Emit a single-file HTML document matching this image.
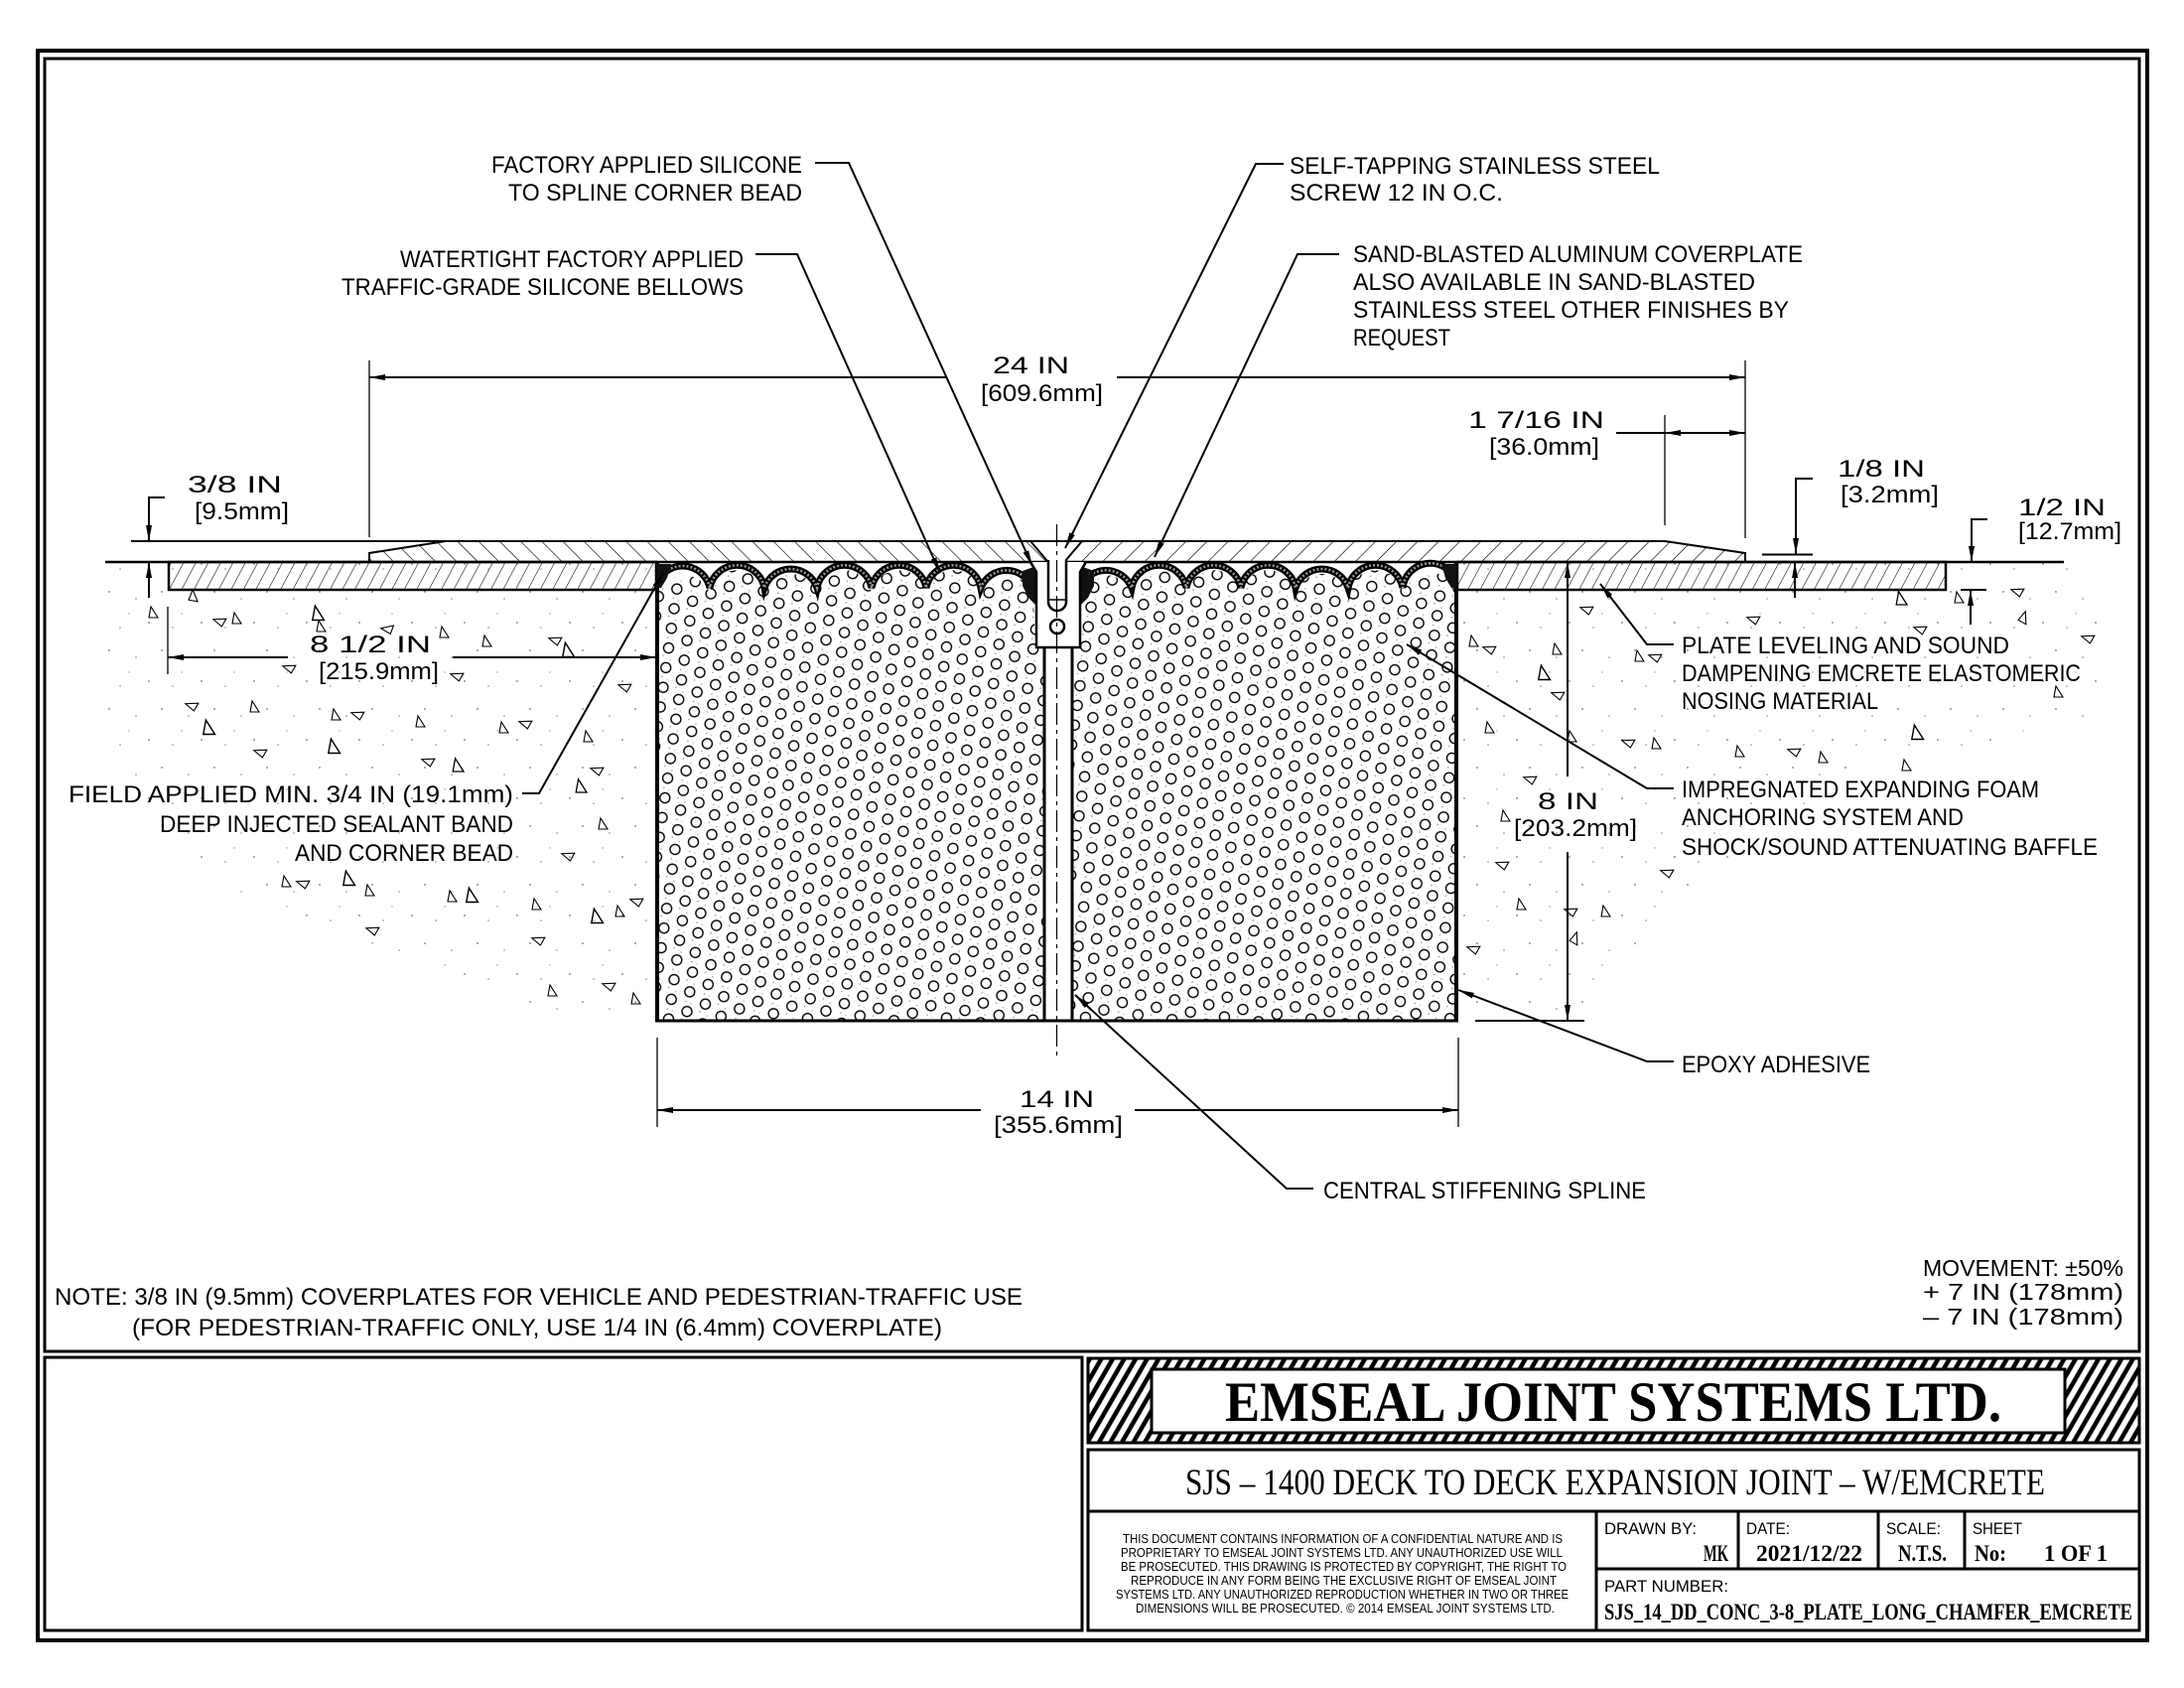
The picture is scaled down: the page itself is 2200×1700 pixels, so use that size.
<!DOCTYPE html>
<html><head><meta charset="utf-8"><title>SJS-1400 Deck to Deck Expansion Joint</title>
<style>
html,body{margin:0;padding:0;background:#fff;}
svg{display:block;}
.l{stroke:#000;stroke-width:2;fill:none;}
.th{stroke:#000;stroke-width:1.3;fill:none;}
.b3{stroke:#000;stroke-width:3;fill:none;}
.t{font-family:"Liberation Sans",sans-serif;font-size:24px;fill:#000;}
.s{font-family:"Liberation Serif",serif;fill:#000;}
</style></head>
<body>
<svg xmlns="http://www.w3.org/2000/svg" width="2200" height="1700" viewBox="0 0 2200 1700">
<defs>
 <marker id="a" viewBox="0 0 16 6" refX="16" refY="3" markerWidth="16" markerHeight="6" orient="auto-start-reverse" markerUnits="userSpaceOnUse"><path d="M0,0 L16,3 L0,6 Z" fill="#000"/></marker>
 <pattern id="hl" patternUnits="userSpaceOnUse" width="15" height="15" patternTransform="rotate(-45)"><line x1="0" y1="0" x2="0" y2="15" stroke="#000" stroke-width="1.3"/></pattern>
 <pattern id="hr" patternUnits="userSpaceOnUse" width="15" height="15" patternTransform="rotate(45)"><line x1="0" y1="0" x2="0" y2="15" stroke="#000" stroke-width="1.3"/></pattern>
 <pattern id="hn" patternUnits="userSpaceOnUse" width="11" height="11" patternTransform="rotate(28)"><line x1="0" y1="0" x2="0" y2="11" stroke="#000" stroke-width="1.1"/></pattern>
 <pattern id="band" patternUnits="userSpaceOnUse" width="10" height="10" patternTransform="rotate(30)"><line x1="5" y1="0" x2="5" y2="10" stroke="#000" stroke-width="4.5"/></pattern>
 <pattern id="foam" patternUnits="userSpaceOnUse" width="20" height="34.64" patternTransform="rotate(-22)">
  <circle cx="10" cy="8.66" r="5" fill="none" stroke="#000" stroke-width="1.4"/>
  <circle cx="0" cy="25.98" r="5" fill="none" stroke="#000" stroke-width="1.4"/>
  <circle cx="20" cy="25.98" r="5" fill="none" stroke="#000" stroke-width="1.4"/>
  <circle cx="3" cy="16" r="0.8" fill="#999"/><circle cx="17" cy="3" r="0.8" fill="#aaa"/><circle cx="12" cy="31" r="0.8" fill="#999"/><circle cx="7" cy="20" r="0.7" fill="#bbb"/>
 </pattern>
 <pattern id="dots" patternUnits="userSpaceOnUse" width="53" height="59">
  <circle cx="4" cy="6" r="0.9" fill="#777"/><circle cx="31" cy="13" r="0.8" fill="#888"/><circle cx="44" cy="37" r="0.9" fill="#777"/><circle cx="15" cy="42" r="0.8" fill="#888"/><circle cx="24" cy="28" r="0.7" fill="#999"/>
 </pattern>
 <clipPath id="foamL"><path d="M663,597 A28,28 0 0 1 715,597 A28,28 0 0 1 770,597 A28,28 0 0 1 823,597 A28,28 0 0 1 878,597 A28,28 0 0 1 933,597 A28,28 0 0 1 988,597 A28,28 0 0 1 1040,597 L1044,652 L1051,652 L1051,1027 L663,1027 Z"/></clipPath>
 <clipPath id="foamR"><path d="M1088,597 A28,28 0 0 1 1140,597 A28,28 0 0 1 1195,597 A28,28 0 0 1 1250,597 A28,28 0 0 1 1305,597 A28,28 0 0 1 1358,597 A28,28 0 0 1 1413,597 A28,28 0 0 1 1467,597 L1467,1027 L1081,1027 L1081,652 L1088,652 Z"/></clipPath>
 <path id="t" d="M-4,5 L5,5 L-2,-6 Z" fill="none" stroke="#000" stroke-width="1.1"/>
</defs>

<rect x="0" y="0" width="2200" height="1700" fill="#fff"/>

<!-- frames -->
<rect x="38" y="51" width="2125" height="1601" fill="none" stroke="#000" stroke-width="4"/>
<rect x="45" y="59" width="2110" height="1302" fill="none" stroke="#000" stroke-width="3"/>
<rect x="45" y="1367" width="1045" height="275" fill="none" stroke="#000" stroke-width="3"/>

<!-- title block -->
<rect x="1096" y="1368" width="1059" height="85" fill="url(#band)" stroke="#000" stroke-width="3"/>
<rect x="1160" y="1379" width="920" height="64" fill="#fff" stroke="#000" stroke-width="3"/>
<text class="s" x="1234" y="1431" font-size="57" font-weight="bold" textLength="782" lengthAdjust="spacingAndGlyphs">EMSEAL JOINT SYSTEMS LTD.</text>
<rect x="1096" y="1460" width="1059" height="62" fill="none" stroke="#000" stroke-width="3"/>
<text class="s" x="1194" y="1505" font-size="37" textLength="866" lengthAdjust="spacingAndGlyphs">SJS – 1400 DECK TO DECK EXPANSION JOINT – W/EMCRETE</text>
<rect x="1096" y="1522" width="1059" height="120" fill="none" stroke="#000" stroke-width="3"/>
<line x1="1608" y1="1522" x2="1608" y2="1642" class="b3"/>
<line x1="1751" y1="1522" x2="1751" y2="1580" class="b3"/>
<line x1="1892" y1="1522" x2="1892" y2="1580" class="b3"/>
<line x1="1979" y1="1522" x2="1979" y2="1580" class="b3"/>
<line x1="1608" y1="1580" x2="2155" y2="1580" class="b3"/>
<g font-family="Liberation Sans, sans-serif" font-size="13" fill="#000">
 <text x="1131" y="1554" textLength="443" lengthAdjust="spacingAndGlyphs">THIS DOCUMENT CONTAINS INFORMATION OF A CONFIDENTIAL NATURE AND IS</text>
 <text x="1129" y="1568" textLength="445" lengthAdjust="spacingAndGlyphs">PROPRIETARY TO EMSEAL JOINT SYSTEMS LTD. ANY UNAUTHORIZED USE WILL</text>
 <text x="1129" y="1582" textLength="449" lengthAdjust="spacingAndGlyphs">BE PROSECUTED. THIS DRAWING IS PROTECTED BY COPYRIGHT, THE RIGHT TO</text>
 <text x="1139" y="1596" textLength="429" lengthAdjust="spacingAndGlyphs">REPRODUCE IN ANY FORM BEING THE EXCLUSIVE RIGHT OF EMSEAL JOINT</text>
 <text x="1124" y="1610" textLength="456" lengthAdjust="spacingAndGlyphs">SYSTEMS LTD. ANY UNAUTHORIZED REPRODUCTION WHETHER IN TWO OR THREE</text>
 <text x="1144" y="1624" textLength="422" lengthAdjust="spacingAndGlyphs">DIMENSIONS WILL BE PROSECUTED. © 2014 EMSEAL JOINT SYSTEMS LTD.</text>
</g>
<g font-family="Liberation Sans, sans-serif" font-size="17" fill="#000">
 <text x="1616" y="1545" textLength="93" lengthAdjust="spacingAndGlyphs">DRAWN BY:</text>
 <text x="1759" y="1545" textLength="44" lengthAdjust="spacingAndGlyphs">DATE:</text>
 <text x="1900" y="1545" textLength="55" lengthAdjust="spacingAndGlyphs">SCALE:</text>
 <text x="1987" y="1545" textLength="50" lengthAdjust="spacingAndGlyphs">SHEET</text>
 <text x="1616" y="1603" textLength="125" lengthAdjust="spacingAndGlyphs">PART NUMBER:</text>
</g>
<g font-family="Liberation Serif, serif" font-size="23" font-weight="bold" fill="#000">
 <text x="1716" y="1572" textLength="25" lengthAdjust="spacingAndGlyphs">MK</text>
 <text x="1769" y="1572" textLength="107" lengthAdjust="spacingAndGlyphs">2021/12/22</text>
 <text x="1912" y="1572" textLength="49" lengthAdjust="spacingAndGlyphs">N.T.S.</text>
 <text x="1989" y="1572" textLength="32" lengthAdjust="spacingAndGlyphs">No:</text>
 <text x="2059" y="1572" textLength="64" lengthAdjust="spacingAndGlyphs">1 OF 1</text>
 <text x="1616" y="1631" textLength="532" lengthAdjust="spacingAndGlyphs">SJS_14_DD_CONC_3-8_PLATE_LONG_CHAMFER_EMCRETE</text>
</g>

<!-- notes -->
<text class="t" x="55" y="1314" textLength="975" lengthAdjust="spacingAndGlyphs">NOTE: 3/8 IN (9.5mm) COVERPLATES FOR VEHICLE AND PEDESTRIAN-TRAFFIC USE</text>
<text class="t" x="133" y="1345" textLength="816" lengthAdjust="spacingAndGlyphs">(FOR PEDESTRIAN-TRAFFIC ONLY, USE 1/4 IN (6.4mm) COVERPLATE)</text>
<g font-family="Liberation Sans, sans-serif" font-size="23" fill="#000">
 <text x="1937" y="1285" textLength="202" lengthAdjust="spacingAndGlyphs">MOVEMENT: ±50%</text>
 <text x="1937" y="1309" textLength="202" lengthAdjust="spacingAndGlyphs">+ 7 IN (178mm)</text>
 <text x="1937" y="1334" textLength="202" lengthAdjust="spacingAndGlyphs">– 7 IN (178mm)</text>
</g>

<!-- concrete stipple -->
<polygon points="106,566 170,566 170,594 661,594 661,1028 560,1028 400,960 220,890 110,760" fill="url(#dots)"/>
<polygon points="1468,594 1960,594 1960,566 2110,566 2120,720 1900,770 1760,850 1640,960 1600,1028 1468,1028" fill="url(#dots)"/>

<!-- aggregate triangles -->
<g>
<use href="#t" transform="translate(195,600) rotate(10)"/><use href="#t" transform="translate(154,617)"/><use href="#t" transform="translate(221,625) rotate(-60)"/><use href="#t" transform="translate(238,623)"/>
<use href="#t" transform="translate(320,618) scale(1.3)"/><use href="#t" transform="translate(323,631)"/><use href="#t" transform="translate(390,633) rotate(-70)"/><use href="#t" transform="translate(447,637)"/>
<use href="#t" transform="translate(490,646)"/><use href="#t" transform="translate(559,644) rotate(-60)"/><use href="#t" transform="translate(572,655) scale(1.3)"/><use href="#t" transform="translate(291,672) rotate(-60)"/>
<use href="#t" transform="translate(460,680) rotate(-60)"/><use href="#t" transform="translate(629,691) rotate(-60)"/><use href="#t" transform="translate(193,710) rotate(-60)"/><use href="#t" transform="translate(256,712)"/>
<use href="#t" transform="translate(338,720)"/><use href="#t" transform="translate(360,719) rotate(-60)"/><use href="#t" transform="translate(423,727)"/><use href="#t" transform="translate(507,733)"/>
<use href="#t" transform="translate(529,728) rotate(-60)"/><use href="#t" transform="translate(592,742)"/><use href="#t" transform="translate(210,733) scale(1.3)"/><use href="#t" transform="translate(262,757) rotate(-60)"/>
<use href="#t" transform="translate(336,752) scale(1.3)"/><use href="#t" transform="translate(431,766) rotate(-60)"/><use href="#t" transform="translate(461,771) scale(1.2)"/><use href="#t" transform="translate(601,775) rotate(-60)"/>
<use href="#t" transform="translate(585,792) scale(1.2)"/><use href="#t" transform="translate(607,830)"/><use href="#t" transform="translate(572,861) rotate(-60)"/><use href="#t" transform="translate(288,888)"/>
<use href="#t" transform="translate(305,889) rotate(-60)"/><use href="#t" transform="translate(351,885) scale(1.3)"/><use href="#t" transform="translate(372,897)"/><use href="#t" transform="translate(455,903)"/>
<use href="#t" transform="translate(475,902) scale(1.3)"/><use href="#t" transform="translate(540,911)"/><use href="#t" transform="translate(601,923) scale(1.3)"/><use href="#t" transform="translate(624,918)"/>
<use href="#t" transform="translate(641,907) rotate(-60)"/><use href="#t" transform="translate(375,936) rotate(-60)"/><use href="#t" transform="translate(542,946) rotate(-60)"/><use href="#t" transform="translate(556,998)"/>
<use href="#t" transform="translate(613,992) rotate(-60)"/><use href="#t" transform="translate(640,1006)"/>
<use href="#t" transform="translate(1915,603) scale(1.2)"/><use href="#t" transform="translate(1973,602)"/><use href="#t" transform="translate(2032,595) rotate(-60)"/><use href="#t" transform="translate(2039,622) rotate(30)"/>
<use href="#t" transform="translate(1766,623) rotate(-60)"/><use href="#t" transform="translate(1598,613) rotate(-60)"/><use href="#t" transform="translate(1934,633) rotate(-60)"/><use href="#t" transform="translate(2103,642) rotate(-60)"/>
<use href="#t" transform="translate(1484,646)"/><use href="#t" transform="translate(1500,653) rotate(-60)"/><use href="#t" transform="translate(1568,654)"/><use href="#t" transform="translate(1651,661)"/>
<use href="#t" transform="translate(1667,661) rotate(-60)"/><use href="#t" transform="translate(1555,678) scale(1.3)"/><use href="#t" transform="translate(1569,699) rotate(-60)"/><use href="#t" transform="translate(2073,697)"/>
<use href="#t" transform="translate(1500,733)"/><use href="#t" transform="translate(1583,742)"/><use href="#t" transform="translate(1640,747) rotate(-60)"/><use href="#t" transform="translate(1668,749)"/>
<use href="#t" transform="translate(1752,757)"/><use href="#t" transform="translate(1807,756) rotate(-60)"/><use href="#t" transform="translate(1836,763)"/><use href="#t" transform="translate(1931,738) scale(1.3)"/>
<use href="#t" transform="translate(1920,771)"/><use href="#t" transform="translate(1541,784) rotate(-60)"/><use href="#t" transform="translate(1516,822)"/><use href="#t" transform="translate(1679,878) rotate(-60)"/>
<use href="#t" transform="translate(1513,870) rotate(-60)"/><use href="#t" transform="translate(1532,911)"/><use href="#t" transform="translate(1582,917) rotate(-60)"/><use href="#t" transform="translate(1617,918)"/>
<use href="#t" transform="translate(1587,945) rotate(30)"/><use href="#t" transform="translate(1484,955) rotate(-60)"/>
</g>

<!-- nosing boxes -->
<rect x="170" y="566" width="491" height="28" fill="url(#hn)"/>
<rect x="170" y="566" width="491" height="28" fill="url(#dots)" stroke="#000" stroke-width="2.5"/>
<rect x="1468" y="566" width="492" height="28" fill="url(#hn)"/>
<rect x="1468" y="566" width="492" height="28" fill="url(#dots)" stroke="#000" stroke-width="2.5"/>

<!-- coverplate -->
<polygon points="372,566 372,557 449,545 1064,545 1064,566" fill="url(#hl)"/>
<polygon points="1064,545 1677,545 1758,557 1758,566 1064,566" fill="url(#hr)"/>
<polygon points="1038,545 1090,545 1073,566 1055,566" fill="#fff"/>
<line x1="132" y1="545" x2="1677" y2="545" class="l"/>
<polyline points="449,545 372,557 372,566" class="l"/>
<polyline points="1677,545 1758,557 1758,566" class="l"/>
<line x1="106" y1="566" x2="2079" y2="566" stroke="#000" stroke-width="2.5"/>
<line x1="1038" y1="545" x2="1055" y2="565" class="l"/>
<line x1="1090" y1="545" x2="1073" y2="565" class="l"/>

<!-- foam -->
<rect x="661" y="566" width="390" height="462" fill="url(#foam)" clip-path="url(#foamL)"/>
<rect x="1081" y="566" width="387" height="462" fill="url(#foam)" clip-path="url(#foamR)"/>
<line x1="662" y1="566" x2="662" y2="1029" stroke="#000" stroke-width="4"/>
<line x1="1467" y1="566" x2="1467" y2="1029" stroke="#000" stroke-width="4"/>
<line x1="660" y1="1028" x2="1469" y2="1028" stroke="#000" stroke-width="3"/>
<line x1="1052" y1="652" x2="1052" y2="1028" stroke="#000" stroke-width="3"/>
<line x1="1080" y1="652" x2="1080" y2="1028" stroke="#000" stroke-width="3"/>

<!-- bellows -->
<path d="M664,588 A28,28 0 0 1 715,597 A28,28 0 0 1 770,597 A28,28 0 0 1 823,597 A28,28 0 0 1 878,597 A28,28 0 0 1 933,597 A28,28 0 0 1 988,597 A28,28 0 0 1 1040,597" fill="none" stroke="#000" stroke-width="7" transform="translate(0,-5)"/>
<path d="M664,588 A28,28 0 0 1 715,597 A28,28 0 0 1 770,597 A28,28 0 0 1 823,597 A28,28 0 0 1 878,597 A28,28 0 0 1 933,597 A28,28 0 0 1 988,597 A28,28 0 0 1 1040,597" fill="none" stroke="#999" stroke-width="2.5" stroke-dasharray="2 2" transform="translate(0,-5)"/>
<path d="M1088,597 A28,28 0 0 1 1140,597 A28,28 0 0 1 1195,597 A28,28 0 0 1 1250,597 A28,28 0 0 1 1305,597 A28,28 0 0 1 1358,597 A28,28 0 0 1 1413,597 A28,28 0 0 1 1466,588" fill="none" stroke="#000" stroke-width="7" transform="translate(0,-5)"/>
<path d="M1088,597 A28,28 0 0 1 1140,597 A28,28 0 0 1 1195,597 A28,28 0 0 1 1250,597 A28,28 0 0 1 1305,597 A28,28 0 0 1 1358,597 A28,28 0 0 1 1413,597 A28,28 0 0 1 1466,588" fill="none" stroke="#999" stroke-width="2.5" stroke-dasharray="2 2" transform="translate(0,-5)"/>
<!-- corner beads -->
<path d="M661,568 L676,568 L672,582 L666,592 L661,592 Z" fill="#111"/>
<path d="M1030,575 L1044,570 L1044,610 L1036,602 L1030,590 Z" fill="#111"/>
<path d="M1102,575 L1088,570 L1088,610 L1096,602 L1102,590 Z" fill="#111"/>
<path d="M1467,568 L1452,568 L1456,582 L1462,592 L1467,592 Z" fill="#111"/>

<!-- spline head & screw -->
<polygon points="1040,566 1044,576 1044,652 1088,652 1088,576 1092,566" fill="#fff"/>
<polyline points="1038,566 1044,576 1044,652 1088,652 1088,576 1094,566" stroke="#000" stroke-width="2.5" fill="none"/>
<path d="M1056,564 L1056,606 A9,9 0 0 0 1074,606 L1074,564" fill="#fff" stroke="#000" stroke-width="2.5"/>
<line x1="1056" y1="604" x2="1074" y2="604" stroke="#000" stroke-width="1.5"/>
<circle cx="1065" cy="631" r="7" fill="none" stroke="#000" stroke-width="2.5"/>
<line x1="1064.5" y1="528" x2="1064.5" y2="1068" stroke="#000" stroke-width="1.2" stroke-dasharray="22 5 4 5"/>

<!-- dimensions -->
<line x1="372" y1="363" x2="372" y2="541" class="th"/>
<line x1="1758" y1="363" x2="1758" y2="542" class="th"/>
<line x1="954" y1="380" x2="372" y2="380" class="l" marker-end="url(#a)"/>
<line x1="1125" y1="380" x2="1758" y2="380" class="l" marker-end="url(#a)"/>
<text class="t" x="1000" y="376" textLength="77" lengthAdjust="spacingAndGlyphs">24 IN</text>
<text class="t" x="988" y="404" textLength="123" lengthAdjust="spacingAndGlyphs">[609.6mm]</text>

<line x1="1677" y1="418" x2="1677" y2="529" class="th"/>
<line x1="1628" y1="436" x2="1677" y2="436" class="l"/>
<line x1="1717" y1="436" x2="1677" y2="436" class="l" marker-end="url(#a)"/>
<line x1="1717" y1="436" x2="1758" y2="436" class="l" marker-end="url(#a)"/>
<text class="t" x="1479" y="431" textLength="137" lengthAdjust="spacingAndGlyphs">1 7/16 IN</text>
<text class="t" x="1500" y="458" textLength="111" lengthAdjust="spacingAndGlyphs">[36.0mm]</text>

<polyline points="166,501 150,501 150,545" class="l" marker-end="url(#a)"/>
<line x1="150" y1="602" x2="150" y2="566" class="l" marker-end="url(#a)"/>
<text class="t" x="189" y="496" textLength="95" lengthAdjust="spacingAndGlyphs">3/8 IN</text>
<text class="t" x="196" y="523" textLength="95" lengthAdjust="spacingAndGlyphs">[9.5mm]</text>

<polyline points="1826,482 1809,482 1809,558" class="l" marker-end="url(#a)"/>
<line x1="1775" y1="558.5" x2="1826" y2="558.5" class="l"/>
<line x1="1808" y1="602" x2="1808" y2="566" class="l" marker-end="url(#a)"/>
<text class="t" x="1851" y="480" textLength="88" lengthAdjust="spacingAndGlyphs">1/8 IN</text>
<text class="t" x="1854" y="506" textLength="99" lengthAdjust="spacingAndGlyphs">[3.2mm]</text>

<polyline points="2002,523 1986,523 1986,566" class="l" marker-end="url(#a)"/>
<line x1="1975" y1="594" x2="2001" y2="594" class="l"/>
<line x1="1985" y1="629" x2="1985" y2="594" class="l" marker-end="url(#a)"/>
<text class="t" x="2033" y="519" textLength="88" lengthAdjust="spacingAndGlyphs">1/2 IN</text>
<text class="t" x="2033" y="543" textLength="104" lengthAdjust="spacingAndGlyphs">[12.7mm]</text>

<line x1="169" y1="611" x2="169" y2="679" class="th"/>
<line x1="290" y1="662" x2="169" y2="662" class="l" marker-end="url(#a)"/>
<line x1="456" y1="662" x2="661" y2="662" class="l" marker-end="url(#a)"/>
<text class="t" x="312" y="657" textLength="122" lengthAdjust="spacingAndGlyphs">8 1/2 IN</text>
<text class="t" x="321" y="684" textLength="121" lengthAdjust="spacingAndGlyphs">[215.9mm]</text>

<line x1="1579" y1="782" x2="1579" y2="566" class="l" marker-end="url(#a)"/>
<line x1="1579" y1="858" x2="1579" y2="1028" class="l" marker-end="url(#a)"/>
<line x1="1486" y1="1028" x2="1596" y2="1028" class="l"/>
<text class="t" x="1549" y="815" textLength="61" lengthAdjust="spacingAndGlyphs">8 IN</text>
<text class="t" x="1525" y="842" textLength="124" lengthAdjust="spacingAndGlyphs">[203.2mm]</text>

<line x1="662" y1="1045" x2="662" y2="1135" class="th"/>
<line x1="1469" y1="1045" x2="1469" y2="1135" class="th"/>
<line x1="988" y1="1118" x2="662" y2="1118" class="l" marker-end="url(#a)"/>
<line x1="1143" y1="1118" x2="1469" y2="1118" class="l" marker-end="url(#a)"/>
<text class="t" x="1027" y="1115" textLength="75" lengthAdjust="spacingAndGlyphs">14 IN</text>
<text class="t" x="1001" y="1141" textLength="130" lengthAdjust="spacingAndGlyphs">[355.6mm]</text>

<!-- leaders -->
<polyline points="821,164 855,164 1040,570" class="l" marker-end="url(#a)"/>
<polyline points="761,256 803,256 947,577" class="l" marker-end="url(#a)"/>
<polyline points="1293,165 1265,165 1073,552" class="l" marker-end="url(#a)"/>
<polyline points="1349,256 1307,256 1163,561" class="l" marker-end="url(#a)"/>
<polyline points="526,799 543,799 668,577" class="l" marker-end="url(#a)"/>
<polyline points="1686,649 1659,649 1612,588" class="l" marker-end="url(#a)"/>
<polyline points="1686,794 1659,794 1417,649" class="l" marker-end="url(#a)"/>
<polyline points="1686,1069 1659,1069 1469,997" class="l" marker-end="url(#a)"/>
<polyline points="1323,1197 1296,1197 1083,1002" class="l" marker-end="url(#a)"/>

<!-- labels -->
<text class="t" x="495" y="174" textLength="313" lengthAdjust="spacingAndGlyphs">FACTORY APPLIED SILICONE</text>
<text class="t" x="512" y="202" textLength="296" lengthAdjust="spacingAndGlyphs">TO SPLINE CORNER BEAD</text>
<text class="t" x="403" y="269" textLength="346" lengthAdjust="spacingAndGlyphs">WATERTIGHT FACTORY APPLIED</text>
<text class="t" x="344" y="297" textLength="405" lengthAdjust="spacingAndGlyphs">TRAFFIC-GRADE SILICONE BELLOWS</text>
<text class="t" x="1299" y="175" textLength="373" lengthAdjust="spacingAndGlyphs">SELF-TAPPING STAINLESS STEEL</text>
<text class="t" x="1299" y="202" textLength="215" lengthAdjust="spacingAndGlyphs">SCREW 12 IN O.C.</text>
<text class="t" x="1363" y="264" textLength="453" lengthAdjust="spacingAndGlyphs">SAND-BLASTED ALUMINUM COVERPLATE</text>
<text class="t" x="1363" y="292" textLength="405" lengthAdjust="spacingAndGlyphs">ALSO AVAILABLE IN SAND-BLASTED</text>
<text class="t" x="1363" y="320" textLength="439" lengthAdjust="spacingAndGlyphs">STAINLESS STEEL OTHER FINISHES BY</text>
<text class="t" x="1363" y="348" textLength="98" lengthAdjust="spacingAndGlyphs">REQUEST</text>
<text class="t" x="69" y="808" textLength="448" lengthAdjust="spacingAndGlyphs">FIELD APPLIED MIN. 3/4 IN (19.1mm)</text>
<text class="t" x="161" y="838" textLength="356" lengthAdjust="spacingAndGlyphs">DEEP INJECTED SEALANT BAND</text>
<text class="t" x="297" y="867" textLength="220" lengthAdjust="spacingAndGlyphs">AND CORNER BEAD</text>
<text class="t" x="1694" y="658" textLength="330" lengthAdjust="spacingAndGlyphs">PLATE LEVELING AND SOUND</text>
<text class="t" x="1694" y="686" textLength="402" lengthAdjust="spacingAndGlyphs">DAMPENING EMCRETE ELASTOMERIC</text>
<text class="t" x="1694" y="714" textLength="198" lengthAdjust="spacingAndGlyphs">NOSING MATERIAL</text>
<text class="t" x="1694" y="803" textLength="360" lengthAdjust="spacingAndGlyphs">IMPREGNATED EXPANDING FOAM</text>
<text class="t" x="1694" y="831" textLength="284" lengthAdjust="spacingAndGlyphs">ANCHORING SYSTEM AND</text>
<text class="t" x="1694" y="861" textLength="419" lengthAdjust="spacingAndGlyphs">SHOCK/SOUND ATTENUATING BAFFLE</text>
<text class="t" x="1694" y="1080" textLength="190" lengthAdjust="spacingAndGlyphs">EPOXY ADHESIVE</text>
<text class="t" x="1333" y="1207" textLength="325" lengthAdjust="spacingAndGlyphs">CENTRAL STIFFENING SPLINE</text>
</svg>
</body></html>
